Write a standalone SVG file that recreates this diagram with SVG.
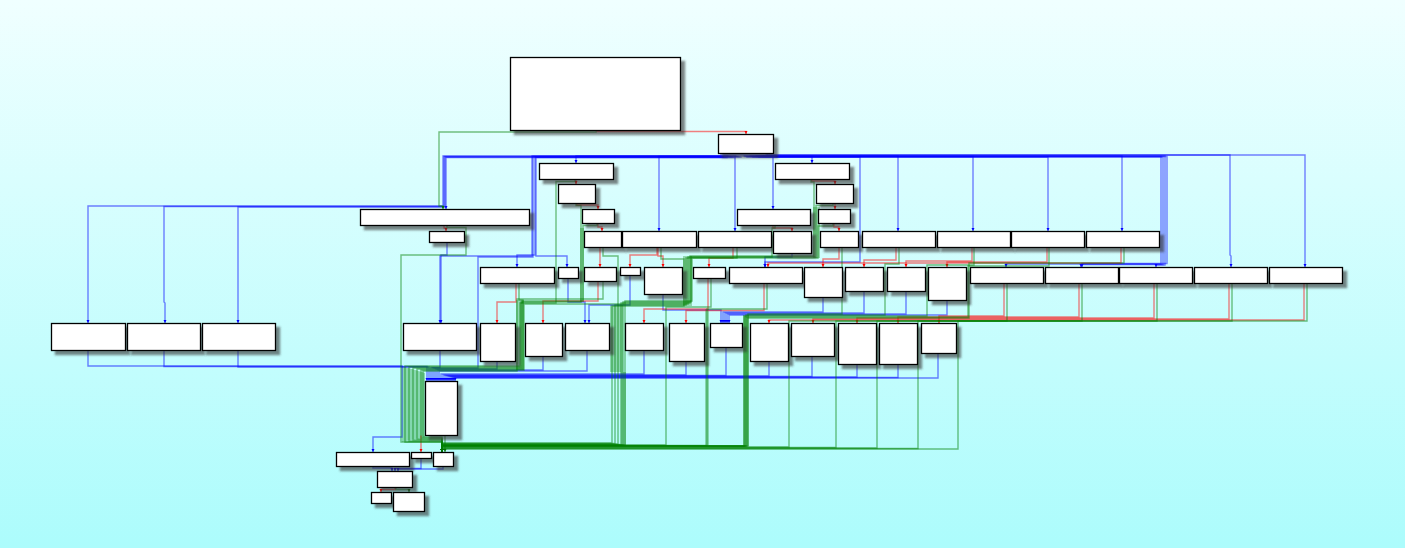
<svg xmlns="http://www.w3.org/2000/svg" width="1405" height="548" viewBox="0 0 1405 548">
<defs>
<linearGradient id="bg" x1="0" y1="0" x2="0" y2="1">
<stop offset="0" stop-color="#f0ffff"/>
<stop offset="1" stop-color="#acfcfc"/>
</linearGradient>
<filter id="sh" filterUnits="userSpaceOnUse" x="0" y="0" width="1405" height="548">
<feDropShadow dx="4" dy="4" stdDeviation="1.3" flood-color="#303030" flood-opacity="0.6"/>
</filter>
<marker id="ab" markerWidth="4" markerHeight="4" refX="3" refY="1.5" orient="auto" markerUnits="userSpaceOnUse"><path d="M0,0 L3,1.5 L0,3z" fill="#0000ff"/></marker>
<marker id="ar" markerWidth="4" markerHeight="4" refX="3" refY="1.5" orient="auto" markerUnits="userSpaceOnUse"><path d="M0,0 L3,1.5 L0,3z" fill="#ff0000"/></marker>
<marker id="ag" markerWidth="4" markerHeight="4" refX="3" refY="1.5" orient="auto" markerUnits="userSpaceOnUse"><path d="M0,0 L3,1.5 L0,3z" fill="#007000"/></marker>
</defs>
<style>
.n{fill:#fff;stroke:#000;stroke-width:1.3;filter:url(#sh)}
.e polyline{fill:none;stroke-width:1.4}
.b{stroke:#0000ff;stroke-opacity:.5;marker-end:url(#ab)}
.r{stroke:#ff0000;stroke-opacity:.5;marker-end:url(#ar)}
.g{stroke:#008000;stroke-opacity:.5;marker-end:url(#ag)}
.w{fill:#008000;fill-opacity:.3;stroke:none}
</style>
<rect width="1405" height="548" fill="url(#bg)"/>
<g id="edges" class="e">
<polygon class="w" points="402,366 425,373 425,437 402,442"/>
<rect class="w" x="516" y="300" width="8" height="70"/>
<rect class="w" x="580" y="228" width="4" height="74"/>
<rect class="w" x="610" y="305" width="13" height="67"/>
<rect class="w" x="621" y="372" width="5" height="73"/>
<rect class="w" x="683" y="256" width="9" height="50"/>
<rect class="w" x="813" y="207" width="7" height="51"/>
<rect class="w" x="743" y="315" width="6" height="131"/>
<rect class="w" x="705" y="309" width="4" height="136"/>
<!-- switch edges -->
<polyline class="b" points="721,153.5 721,156 443,156 443,206 88,206 88,323"/>
<polyline class="b" points="723,153.5 723,156.5 444,156.5 444,206.5 164,206.5 164,302 165,303 165,323"/>
<polyline class="b" points="725,153.5 725,157 445,157 445,207 238,207 238,323"/>
<polyline class="b" points="727,153.5 727,157.5 446,157.5 446,209"/>
<polyline class="b" points="729,153.5 729,156 532,156 532,256 440,256 440,323"/>
<polyline class="b" points="731,153.5 731,156.5 533,156.5 533,257 478,257 478,368 433,368 433,381"/>
<polyline class="b" points="733,153.5 733,157 535,157 535,255 517,255 517,267"/>
<polyline class="b" points="735,153.5 735,157.5 536,157.5 536,256 567,256 567,267"/>
<polyline class="b" points="737,153.5 737,156 576,156 576,163"/>
<polyline class="b" points="739,153.5 739,156.5 659,156.5 659,231"/>
<polyline class="b" points="741,153.5 741,157 735,157 735,231"/>
<polyline class="b" points="743,153.5 743,156 773,156 773,209"/>
<polyline class="b" points="745,153.5 745,156.5 812,156.5 812,163"/>
<polyline class="b" points="747,153.5 747,157 860,157 860,262 765,262 765,267"/>
<polyline class="b" points="749,153.5 749,156 898,156 898,231"/>
<polyline class="b" points="751,153.5 751,156.5 973,156.5 973,231"/>
<polyline class="b" points="753,153.5 753,157 1048,157 1048,231"/>
<polyline class="b" points="755,153.5 755,156 1122,156 1122,231"/>
<polyline class="b" points="757,153.5 757,156.5 1161,156.5 1161,264 1006,264 1006,267"/>
<polyline class="b" points="759,153.5 759,157 1163,157 1163,264.5 1081,264.5 1081,267"/>
<polyline class="b" points="761,153.5 761,156 1165,156 1165,265 1156,265 1156,267"/>
<polyline class="b" points="763,153.5 763,156.5 1167,156.5 1167,263.5 1082,263.5 1082,267"/>
<polyline class="b" points="765,153.5 765,155 1230,155 1230,255 1231,256 1231,267"/>
<polyline class="b" points="767,153.5 767,155 1305,155 1305,267"/>
<!-- other blue -->
<polyline class="b" points="447,242.5 447,255 441,255 441,323"/>
<polyline class="b" points="792,253.5 792,257 765,257 765,267"/>
<polyline class="b" points="568,278.5 568,302 585,302 585,323"/>
<polyline class="b" points="630,275.5 630,305 589,305 589,323"/>
<polyline class="b" points="663,294.5 663,310 721,310 721,323"/>
<polyline class="b" points="823,297.5 823,312 723,312 723,323"/>
<polyline class="b" points="864,291.5 864,313 725,313 725,323"/>
<polyline class="b" points="906,291.5 906,314 727,314 727,323"/>
<polyline class="b" points="947,300.5 947,315 729,315 729,323"/>
<polyline class="b" points="88,350.5 88,366 402,366 402,437 373,437 373,452"/>
<polyline class="b" points="164,350.5 164,366.5 427,366.5 427,381"/>
<polyline class="b" points="238,350.5 238,367 429,367 429,381"/>
<polyline class="b" points="440,350.5 440,367.5 431,367.5 431,381"/>
<polyline class="b" points="497,361.5 497,369 435,369 435,381"/>
<polyline class="b" points="543,356.5 543,370 437,370 437,381"/>
<polyline class="b" points="587,350.5 587,371 439,371 439,381"/>
<polyline class="b" points="644,350.5 644,374 441,374 441,381"/>
<polyline class="b" points="686,361.5 686,375 443,375 443,381"/>
<polyline class="b" points="726,347.5 726,375.5 445,375.5 445,381"/>
<polyline class="b" points="769,361.5 769,376 447,376 447,381"/>
<polyline class="b" points="812,356.5 812,376.5 449,376.5 449,381"/>
<polyline class="b" points="857,364.5 857,377 451,377 451,381"/>
<polyline class="b" points="898,364.5 898,377.5 453,377.5 453,381"/>
<polyline class="b" points="938,353.5 938,378 455,378 455,381"/>
<polyline class="b" points="373,466.5 373,468 392,468 392,471"/>
<polyline class="b" points="421,458.5 421,468.5 395,468.5 395,471"/>
<polyline class="b" points="443,466.5 443,469 398,469 398,471"/>
<!-- red -->
<polyline class="r" points="597,130.5 597,131.5 746,131.5 746,134"/>
<polyline class="r" points="576,179.5 576,184"/>
<polyline class="r" points="577,203.5 577,205 598,205 598,209"/>
<polyline class="r" points="598,223.5 598,227 602,227 602,231"/>
<polyline class="r" points="444,225.5 444,228 446,228 446,231"/>
<polyline class="r" points="812,179.5 812,181 835,181 835,184"/>
<polyline class="r" points="835,203.5 835,209"/>
<polyline class="r" points="834,223.5 834,227 839,227 839,231"/>
<polyline class="r" points="773,225.5 773,228 792,228 792,231"/>
<polyline class="r" points="600,247.5 600,267"/>
<polyline class="r" points="657,247.5 657,255 630,255 630,267"/>
<polyline class="r" points="658,247.5 658,256 663,256 663,267"/>
<polyline class="r" points="733,247.5 733,258 709,258 709,267"/>
<polyline class="r" points="839,247.5 839,259 823,259 823,267"/>
<polyline class="r" points="896,247.5 896,260 864,260 864,267"/>
<polyline class="r" points="972,247.5 972,261 906,261 906,267"/>
<polyline class="r" points="1047,247.5 1047,262 947,262 947,267"/>
<polyline class="r" points="1121,247.5 1121,263 768,263 768,267"/>
<polyline class="r" points="516,283.5 516,302 497,302 497,323"/>
<polyline class="r" points="598,281.5 598,301 543,301 543,323"/>
<polyline class="r" points="708,278.5 708,309 644,309 644,323"/>
<polyline class="r" points="764,283.5 764,310.5 686,310.5 686,323"/>
<polyline class="r" points="1004,283.5 1004,316 939,316 939,323"/>
<polyline class="r" points="1079,283.5 1079,317 898,317 898,323"/>
<polyline class="r" points="1154,283.5 1154,318 857,318 857,323"/>
<polyline class="r" points="1229,283.5 1229,319 813,319 813,323"/>
<polyline class="r" points="1304,283.5 1304,320 769,320 769,323"/>
<polyline class="r" points="421,435.5 421,452"/>
<polyline class="r" points="395,487.5 395,489.5 381,489.5 381,492"/>
<!-- green -->
<polyline class="g" points="596,130.5 596,132 439,132 439,206 443,206 443,209"/>
<polyline class="g" points="447,225.5 447,227.5 466,227.5 466,255 401,255 401,442 442,442 442,452"/>
<polyline class="g" points="575,179.5 575,181.5 556,181.5 556,303 520,303 520,366 405,366 405,442 442,442 442,452"/>
<polyline class="g" points="576,203.5 576,205.5 581,205.5 581,302 521,302 521,367 409,367 409,441 442,441 442,452"/>
<polyline class="g" points="597,223.5 597,225.5 583,225.5 583,301 522,301 522,368 413,368 413,440 442,440 442,452"/>
<polyline class="g" points="519,283.5 519,300 523,300 523,369 417,369 417,439 442,439 442,452"/>
<polyline class="g" points="603,247.5 603,256 618,256 618,304 524,304 524,370 421,370 421,438 442,438 442,452"/>
<polyline class="g" points="603,281.5 603,299 517,299 517,371 423,371 423,437 442,437 442,452"/>
<polyline class="g" points="661,247.5 661,259 684,259 684,306 612,306 612,443 442,443 442,452"/>
<polyline class="g" points="737,247.5 737,258 686,258 686,305 615,305 615,443.5 442,443.5 442,452"/>
<polyline class="g" points="775,225.5 775,228 772,228 772,257 688,257 688,304 618,304 618,444 442,444 442,452"/>
<polyline class="g" points="811,179.5 811,182 814,182 814,256 690,256 690,303 621,303 621,444.5 442,444.5 442,452"/>
<polyline class="g" points="833,203.5 833,205.5 816,205.5 816,257 691,257 691,302 623,302 623,445 442,445 442,452"/>
<polyline class="g" points="833,223.5 833,226 818,226 818,258 692,258 692,301 625,301 625,445 442,445 442,452"/>
<polyline class="g" points="711,278.5 711,307 666,307 666,445 442,445 442,452"/>
<polyline class="g" points="767,283.5 767,309 707,309 707,445.5 442,445.5 442,452"/>
<polyline class="g" points="842,247.5 842,314 748,314 748,446 442,446 442,452"/>
<polyline class="g" points="899,247.5 899,264 885,264 885,315 746,315 746,446 442,446 442,452"/>
<polyline class="g" points="974,247.5 974,265 927,265 927,316 744,316 744,446 442,446 442,452"/>
<polyline class="g" points="1049,247.5 1049,266 968,266 968,317 745,317 745,446 442,446 442,452"/>
<polyline class="g" points="1124,247.5 1124,263 969,263 969,318 747,318 747,446 442,446 442,452"/>
<polyline class="g" points="1007,283.5 1007,321 958,321 958,449 442,449 442,452"/>
<polyline class="g" points="1082,283.5 1082,321 918,321 918,448.5 442,448.5 442,452"/>
<polyline class="g" points="1157,283.5 1157,321 877,321 877,448 442,448 442,452"/>
<polyline class="g" points="1232,283.5 1232,321 836,321 836,447.5 442,447.5 442,452"/>
<polyline class="g" points="1307,283.5 1307,321 789,321 789,447 442,447 442,452"/>
<polyline class="g" points="445,435.5 445,452"/>
<polyline class="g" points="396,487.5 396,489.5 409,489.5 409,492"/>
</g>
<g id="n0"><rect class="n" x="510.5" y="57.5" width="170" height="73"/></g>
<g id="n1"><rect class="n" x="718.5" y="134.5" width="55" height="19"/></g>
<g id="n2"><rect class="n" x="539.5" y="163.5" width="74" height="16"/></g>
<g id="n3"><rect class="n" x="775.5" y="163.5" width="74" height="16"/></g>
<g id="n4"><rect class="n" x="558.5" y="184.5" width="37" height="19"/></g>
<g id="n5"><rect class="n" x="816.5" y="184.5" width="37" height="19"/></g>
<g id="n6"><rect class="n" x="360.5" y="209.5" width="169" height="16"/></g>
<g id="n7"><rect class="n" x="582.5" y="209.5" width="32" height="14"/></g>
<g id="n8"><rect class="n" x="737.5" y="209.5" width="73" height="16"/></g>
<g id="n9"><rect class="n" x="818.5" y="209.5" width="32" height="14"/></g>
<g id="n10"><rect class="n" x="429.5" y="231.5" width="35" height="11"/></g>
<g id="n11"><rect class="n" x="584.5" y="231.5" width="37" height="16"/></g>
<g id="n12"><rect class="n" x="622.5" y="231.5" width="74" height="16"/></g>
<g id="n13"><rect class="n" x="698.5" y="231.5" width="73" height="16"/></g>
<g id="n14"><rect class="n" x="773.5" y="231.5" width="38" height="22"/></g>
<g id="n15"><rect class="n" x="820.5" y="231.5" width="38" height="16"/></g>
<g id="n16"><rect class="n" x="862.5" y="231.5" width="73" height="16"/></g>
<g id="n17"><rect class="n" x="937.5" y="231.5" width="73" height="16"/></g>
<g id="n18"><rect class="n" x="1011.5" y="231.5" width="73" height="16"/></g>
<g id="n19"><rect class="n" x="1086.5" y="231.5" width="73" height="16"/></g>
<g id="n20"><rect class="n" x="480.5" y="267.5" width="74" height="16"/></g>
<g id="n21"><rect class="n" x="558.5" y="267.5" width="20" height="11"/></g>
<g id="n22"><rect class="n" x="584.5" y="267.5" width="32" height="14"/></g>
<g id="n23"><rect class="n" x="620.5" y="267.5" width="20" height="8"/></g>
<g id="n24"><rect class="n" x="644.5" y="267.5" width="38" height="27"/></g>
<g id="n25"><rect class="n" x="693.5" y="267.5" width="32" height="11"/></g>
<g id="n26"><rect class="n" x="729.5" y="267.5" width="73" height="16"/></g>
<g id="n27"><rect class="n" x="804.5" y="267.5" width="38" height="30"/></g>
<g id="n28"><rect class="n" x="845.5" y="267.5" width="38" height="24"/></g>
<g id="n29"><rect class="n" x="887.5" y="267.5" width="38" height="24"/></g>
<g id="n30"><rect class="n" x="928.5" y="267.5" width="38" height="33"/></g>
<g id="n31"><rect class="n" x="970.5" y="267.5" width="73" height="16"/></g>
<g id="n32"><rect class="n" x="1045.5" y="267.5" width="73" height="16"/></g>
<g id="n33"><rect class="n" x="1119.5" y="267.5" width="73" height="16"/></g>
<g id="n34"><rect class="n" x="1194.5" y="267.5" width="73" height="16"/></g>
<g id="n35"><rect class="n" x="1269.5" y="267.5" width="73" height="16"/></g>
<g id="n36"><rect class="n" x="51.5" y="323.5" width="74" height="27"/></g>
<g id="n37"><rect class="n" x="127.5" y="323.5" width="73" height="27"/></g>
<g id="n38"><rect class="n" x="202.5" y="323.5" width="73" height="27"/></g>
<g id="n39"><rect class="n" x="403.5" y="323.5" width="73" height="27"/></g>
<g id="n40"><rect class="n" x="480.5" y="323.5" width="35" height="38"/></g>
<g id="n41"><rect class="n" x="525.5" y="323.5" width="37" height="33"/></g>
<g id="n42"><rect class="n" x="565.5" y="323.5" width="44" height="27"/></g>
<g id="n43"><rect class="n" x="625.5" y="323.5" width="38" height="27"/></g>
<g id="n44"><rect class="n" x="669.5" y="323.5" width="35" height="38"/></g>
<g id="n45"><rect class="n" x="710.5" y="323.5" width="32" height="24"/></g>
<g id="n46"><rect class="n" x="750.5" y="323.5" width="38" height="38"/></g>
<g id="n47"><rect class="n" x="791.5" y="323.5" width="43" height="33"/></g>
<g id="n48"><rect class="n" x="838.5" y="323.5" width="38" height="41"/></g>
<g id="n49"><rect class="n" x="879.5" y="323.5" width="38" height="41"/></g>
<g id="n50"><rect class="n" x="921.5" y="323.5" width="35" height="30"/></g>
<g id="n51"><rect class="n" x="425.5" y="381.5" width="32" height="54"/></g>
<g id="n52"><rect class="n" x="336.5" y="452.5" width="73" height="14"/></g>
<g id="n53"><rect class="n" x="411.5" y="452.5" width="20" height="6"/></g>
<g id="n54"><rect class="n" x="433.5" y="452.5" width="20" height="14"/></g>
<g id="n55"><rect class="n" x="377.5" y="471.5" width="35" height="16"/></g>
<g id="n56"><rect class="n" x="371.5" y="492.5" width="20" height="11"/></g>
<g id="n57"><rect class="n" x="393.5" y="492.5" width="31" height="19"/></g>
</svg>
